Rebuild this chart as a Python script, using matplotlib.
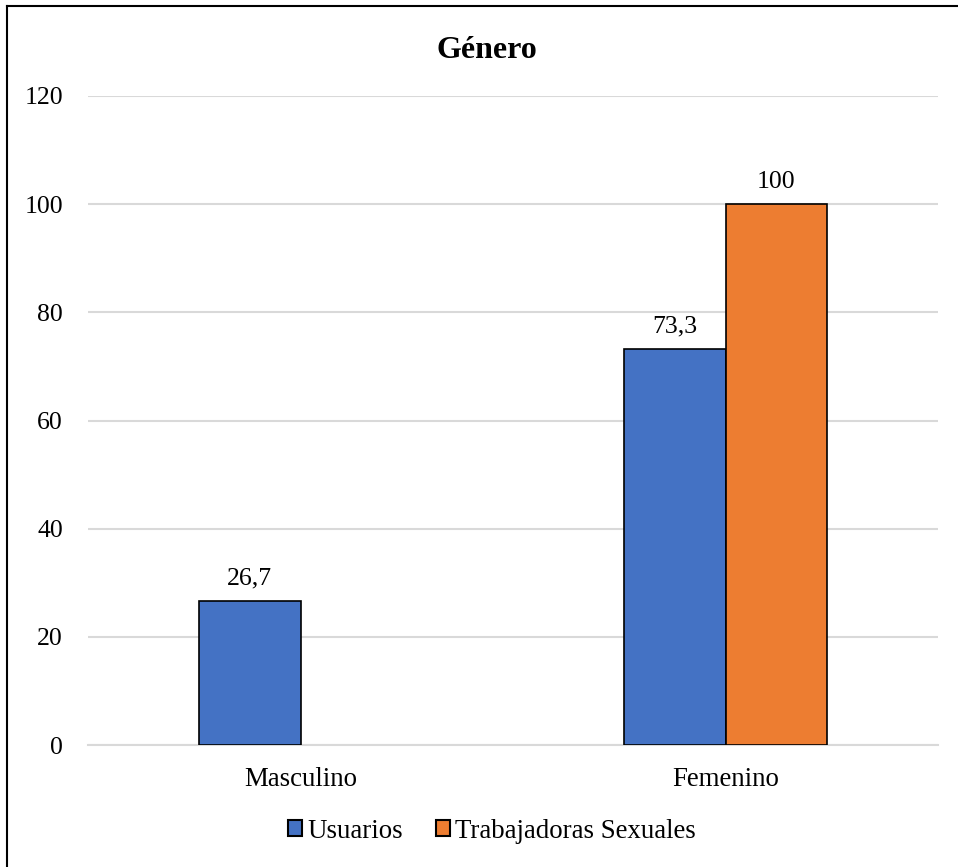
import numpy as np
import matplotlib
matplotlib.use("Agg")
import matplotlib.pyplot as plt
from matplotlib.patches import Patch
from matplotlib.lines import Line2D

categories = ["Masculino", "Femenino"]
series_names = ["Usuarios", "Trabajadoras Sexuales"]
usuarios = [26.7, 73.3]
trabajadoras = [np.nan, 100]
colors = ["#4472C4", "#ED7D31"]
yticks = [0, 20, 40, 60, 80, 100, 120]

plt.rcParams["font.family"] = ["Liberation Serif", "DejaVu Serif"]
FS_NUM = 18.5
FS_TXT = 19.4

fig = plt.figure(figsize=(9.58, 8.67), dpi=100)
ax = fig.add_axes([88 / 958, 1 - 745 / 867, 850 / 958, (745 - 96) / 867])

x = np.arange(len(categories))
w = 0.238
for i, (vals, col) in enumerate(zip([usuarios, trabajadoras], colors)):
    offs = (i - 0.5) * w
    ax.bar(x + offs, vals, width=w, color=col, edgecolor="black",
           linewidth=1.2, zorder=3)
    for xi, v in zip(x + offs, vals):
        if not np.isnan(v):
            lbl = f"{v:g}".replace(".", ",")
            ax.annotate(lbl, (xi, v), xytext=(0, 8), textcoords="offset points",
                        ha="center", va="bottom", fontsize=FS_NUM)

ax.set_xlim(-0.5, 1.5)
ax.set_ylim(0, 120)
ax.set_yticks(yticks)
ax.set_xticks(x)
ax.set_xticklabels(categories, fontsize=FS_TXT)
ax.tick_params(axis="both", length=0)
ax.tick_params(axis="y", pad=18, labelsize=FS_NUM)
ax.tick_params(axis="x", pad=15.5)
ax.grid(axis="y", color="#d9d9d9", linewidth=1.5, zorder=0)
for s in ["top", "right", "left"]:
    ax.spines[s].set_visible(False)
ax.spines["bottom"].set_color("#d9d9d9")
ax.spines["bottom"].set_linewidth(1.5)

fig.text(487 / 958, 1 - 50 / 867, "Género", ha="center", va="center",
         fontsize=23, fontweight="bold")

handles = [Patch(facecolor=c, edgecolor="black", linewidth=1.5) for c in colors]
fig.legend(handles, series_names, loc="center", bbox_to_anchor=(492 / 958, 1 - 831 / 867),
           ncol=2, frameon=False, fontsize=FS_TXT, handlelength=0.5, handleheight=0.5,
           handletextpad=0.19, columnspacing=1.25)

# outer frame (left and top edges)
fig.add_artist(Line2D([7 / 958, 7 / 958], [0, 1 - 6 / 867], transform=fig.transFigure,
                      color="black", linewidth=1.5))
fig.add_artist(Line2D([7 / 958, 1], [1 - 6 / 867, 1 - 6 / 867], transform=fig.transFigure,
                      color="black", linewidth=1.5))

fig.savefig("out.png", dpi=100)
